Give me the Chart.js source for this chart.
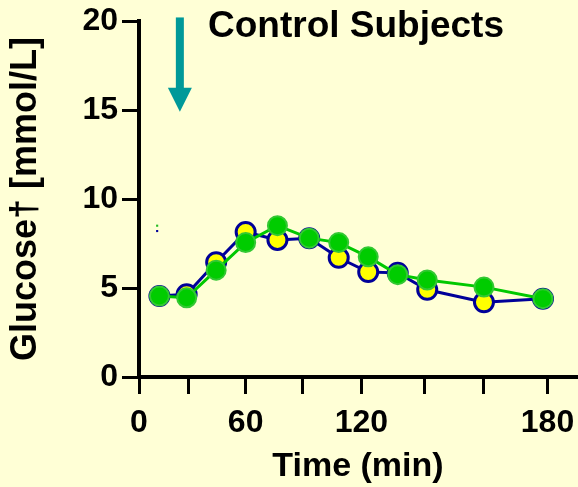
<!DOCTYPE html>
<html>
<head>
<meta charset="utf-8">
<script src="https://cdn.jsdelivr.net/npm/chart.js@4.4.1/dist/chart.umd.min.js"></script>
<style>
  html, body { margin: 0; padding: 0; background: #FFFFD6; }
  #wrap { width: 578px; height: 487px; }
</style>
</head>
<body>
<div id="wrap"><canvas id="chart" width="578" height="487"></canvas></div>
<script>
// Axis positions (the original x axis is not linear in minutes)
const xTickPos = [0, 22, 47, 72, 98, 126, 152, 180];
const xTickLabels = ['0', '', '60', '', '120', '', '', '180'];
const yTicks = [0, 5, 10, 15, 20];

// Sample positions along the x axis
const timePos = [9, 21, 34, 47, 61, 75, 88, 101, 114, 127, 152, 178];

// Glucose, mmol/L
const glucoseGreen = [4.55, 4.45, 6.0, 7.55, 8.5, 7.8, 7.55, 6.75, 5.75, 5.45, 5.05, 4.4];
const glucoseYellow = [4.55, 4.65, 6.45, 8.15, 7.7, 7.8, 6.7, 5.9, 5.85, 4.9, 4.2, 4.4];

// stray error-bar caps
const capPos = [8, 8];
const capVals = [8.5, 8.2];

const arrowAt = 18;
const arrowFrom = 20.2;
const arrowTo = 14.9;

const FONT = "'Liberation Sans', Arial, sans-serif";

const toPoints = (xs, ys) => xs.map((x, i) => ({ x: x, y: ys[i] }));

const overlay = {
    id: 'overlay',
    afterDraw(chart) {
        const ctx = chart.ctx;
        const xs = chart.scales.x;
        const ys = chart.scales.y;
        // meal arrow
        const ax = xs.getPixelForValue(arrowAt);
        const top = ys.getPixelForValue(arrowFrom);
        const tip = ys.getPixelForValue(arrowTo);
        ctx.save();
        ctx.fillStyle = '#009999';
        ctx.fillRect(ax - 4, top, 8, tip - top - 22);
        ctx.beginPath();
        ctx.moveTo(ax - 12, tip - 24);
        ctx.lineTo(ax + 12, tip - 24);
        ctx.lineTo(ax, tip);
        ctx.closePath();
        ctx.fill();
        // panel title
        ctx.fillStyle = '#000';
        ctx.font = "bold 37px " + FONT;
        ctx.textAlign = 'center';
        ctx.textBaseline = 'alphabetic';
        ctx.fillText('Control Subjects', chart.chartArea.left + 217, 37);
        ctx.restore();
    }
};

new Chart(document.getElementById('chart'), {
    type: 'line',
    data: {
        datasets: [
            {
                label: 'green',
                data: toPoints(timePos, glucoseGreen),
                borderColor: '#00C800',
                borderWidth: 3,
                pointRadius: 9.5,
                pointBorderWidth: 2,
                pointBackgroundColor: '#00CC00',
                pointBorderColor: '#33C833',
                tension: 0,
                order: 0
            },
            {
                label: 'yellow',
                data: toPoints(timePos, glucoseYellow),
                borderColor: '#000099',
                borderWidth: 3,
                pointRadius: 9.5,
                pointBorderWidth: 3,
                pointBackgroundColor: '#FFFF00',
                pointBorderColor: '#000099',
                tension: 0,
                order: 1
            },
            {
                label: 'caps',
                data: toPoints(capPos, capVals),
                showLine: false,
                pointStyle: 'rect',
                pointRadius: 1.5,
                pointBorderWidth: 0,
                pointBackgroundColor: ['#22BB22', '#000099'],
                order: 2
            }
        ]
    },
    options: {
        responsive: false,
        animation: false,
        layout: { autoPadding: false, padding: { top: 21, right: 1, left: 0, bottom: 0 } },
        plugins: {
            legend: { display: false },
            tooltip: { enabled: false }
        },
        scales: {
            x: {
                type: 'linear',
                min: 0,
                max: 193,
                afterBuildTicks: s => { s.ticks = xTickPos.map(v => ({ value: v })); },
                afterFit: s => { s.height = 110; s.paddingLeft = 0; s.paddingRight = 0; },
                ticks: {
                    autoSkip: false,
                    maxRotation: 0,
                    padding: 10,
                    color: '#000',
                    font: { family: FONT, size: 32, weight: 'bold' },
                    callback: v => { const i = xTickPos.indexOf(v); return i >= 0 ? xTickLabels[i] : ''; }
                },
                grid: { drawOnChartArea: false, tickLength: 17, tickWidth: 3, tickColor: '#000' },
                border: { width: 4, color: '#000' },
                title: {
                    display: true,
                    text: 'Time (min)',
                    color: '#000',
                    font: { family: FONT, size: 34, weight: 'bold' },
                    padding: { top: 0, bottom: 0 }
                }
            },
            y: {
                min: 0,
                max: 20,
                afterBuildTicks: s => { s.ticks = yTicks.map(v => ({ value: v })); },
                afterFit: s => { s.width = 139; s.paddingTop = 0; s.paddingBottom = 0; },
                ticks: {
                    padding: 4,
                    color: '#000',
                    font: { family: FONT, size: 32, weight: 'bold' }
                },
                grid: { drawOnChartArea: false, tickLength: 17, tickWidth: 3, tickColor: '#000' },
                border: { width: 4, color: '#000' },
                title: {
                    display: true,
                    text: 'Glucose† [mmol/L]',
                    color: '#000',
                    font: { family: FONT, size: 36, weight: 'bold' },
                    padding: { top: 4, bottom: 0 }
                }
            }
        }
    },
    plugins: [overlay]
});
</script>
</body>
</html>
